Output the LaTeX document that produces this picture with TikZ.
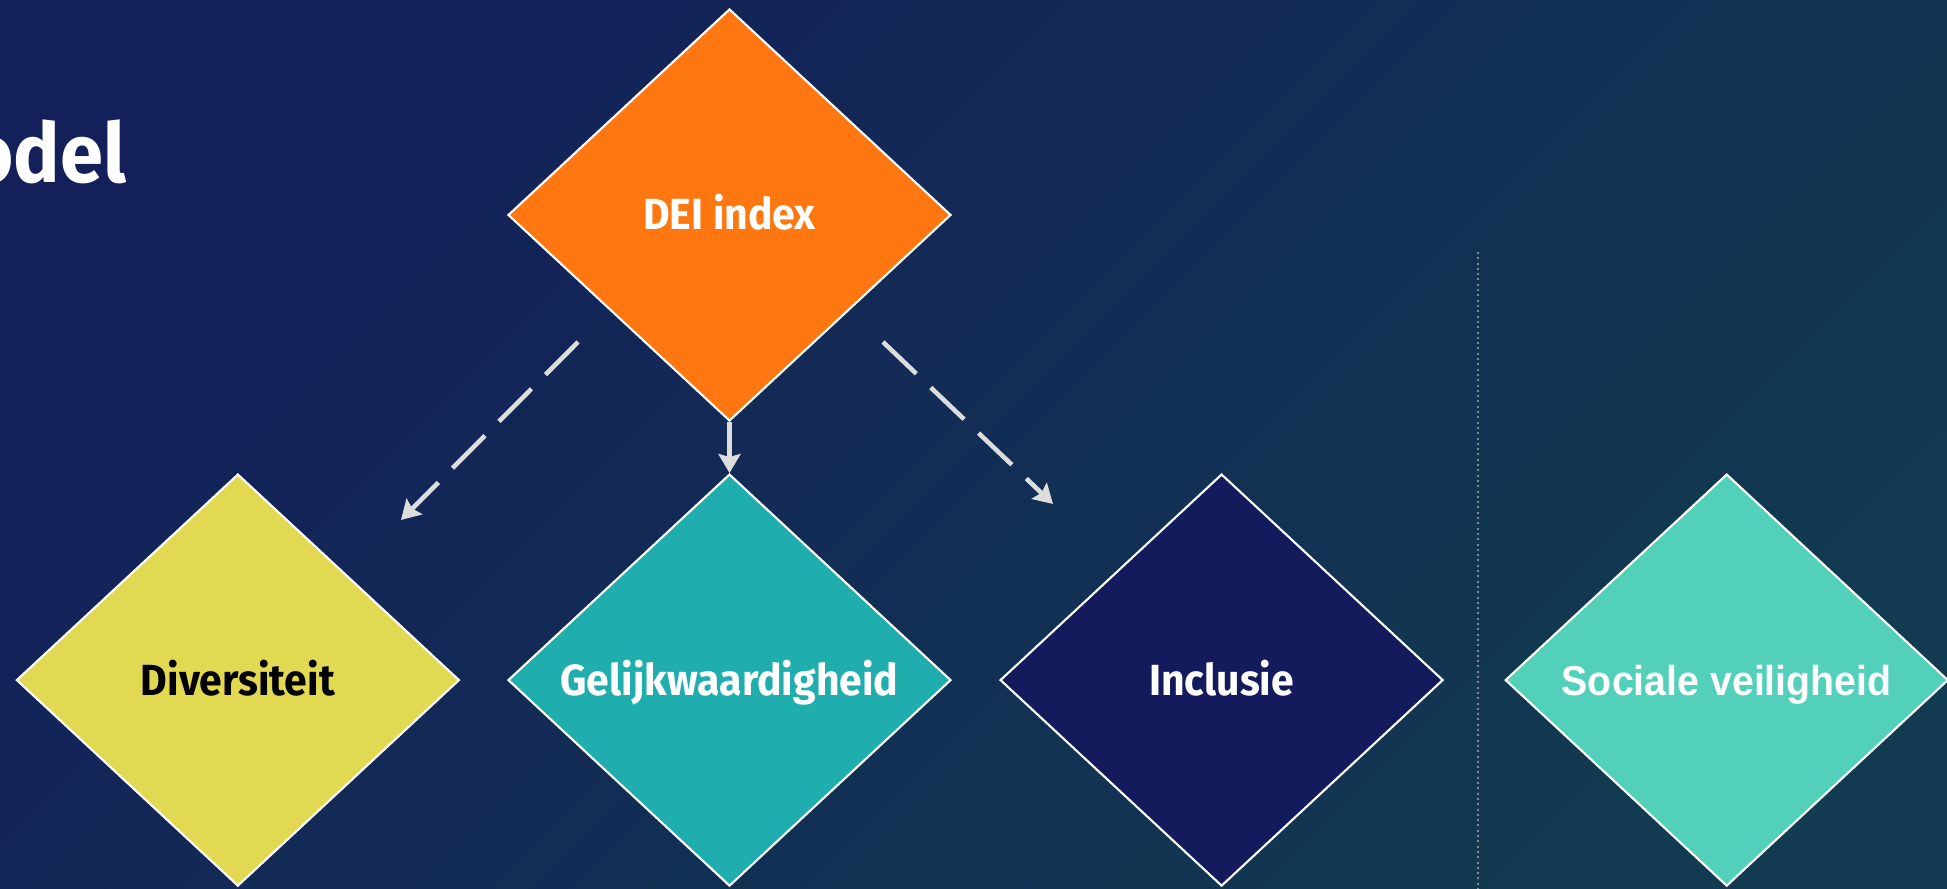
\documentclass[tikz,border=0pt]{standalone}
\usepackage{fontspec}
\setmainfont{Fira Sans}[FakeStretch=0.94]
\newfontfamily\labelfont{Liberation Sans}[FakeStretch=0.94]
\usetikzlibrary{shapes,arrows.meta,positioning,calc}

\definecolor{bgTop}{HTML}{13205A}
\definecolor{bgBottom}{HTML}{123A50}
\definecolor{deiOrange}{HTML}{FF7711}
\definecolor{divYellow}{HTML}{E2D952}
\definecolor{gelTeal}{HTML}{1FADAE}
\definecolor{inclNavy}{HTML}{131B5C}
\definecolor{socMint}{HTML}{52D0BA}
\definecolor{arrowGrey}{HTML}{DDDDDD}
\definecolor{sepGrey}{HTML}{7F8A99}

\begin{document}
\begin{tikzpicture}[
    node distance=0.5cm,
    block/.style={diamond, draw=white, line width=0.6pt, inner sep=0pt, minimum width=4.43cm, minimum height=4.12cm, text=white, text height=0.3cm, text depth=0pt, font=\bfseries\fontsize{12.4}{14}\selectfont},
    arrow/.style={arrowGrey, line width=1.3pt, -{Stealth[length=0.19cm, width=0.22cm, inset=0.03cm]}},
    dasharrow/.style={arrow, dash pattern=on 0.46cm off 0.2cm}
]

% Background
\useasboundingbox (0,0) rectangle (19.47,8.89);
\shade[top color=bgTop, bottom color=bgBottom, shading angle=45] (0,0) rectangle (19.47,8.89);

% Title
\node[anchor=base east, text=white, inner sep=0pt, font=\bfseries\fontsize{23.5}{26}\selectfont] (title) at (1.27,7.06) {odel};

% Index
\node[block, fill=deiOrange] (dei) at (7.295,6.74) {DEI index};

% Dimensions
\node[block, fill=gelTeal, below=0.51cm of dei] (gel) {Gelijkwaardigheid};
\node[block, fill=divYellow, text=black, left=0.465cm of gel] (div) {Diversiteit};
\node[block, fill=inclNavy, right=0.47cm of gel] (incl) {Inclusie};
\node[block, fill=socMint, right=0.6cm of incl, font=\labelfont\bfseries\fontsize{11.9}{14}\selectfont] (soc) {Sociale veiligheid};

% Divider
\coordinate (sepTop) at (14.777,6.37);
\coordinate (sepBot) at (14.777,0);
\draw[sepGrey, line width=0.55pt, dash pattern=on 0.02cm off 0.033cm] (sepTop) -- (sepBot);

% Arrows
\coordinate (dlStart) at ($(dei.center)+(-1.515,-1.27)$);
\coordinate (dlEnd) at ($(dei.center)+(-3.285,-3.05)$);
\coordinate (drStart) at ($(dei.center)+(1.535,-1.27)$);
\coordinate (drEnd) at ($(dei.center)+(3.235,-2.89)$);
\draw[dasharrow] (dlStart) -- (dlEnd);
\draw[arrow] (dei) -- (gel);
\draw[dasharrow] (drStart) -- (drEnd);

\end{tikzpicture}
\end{document}
